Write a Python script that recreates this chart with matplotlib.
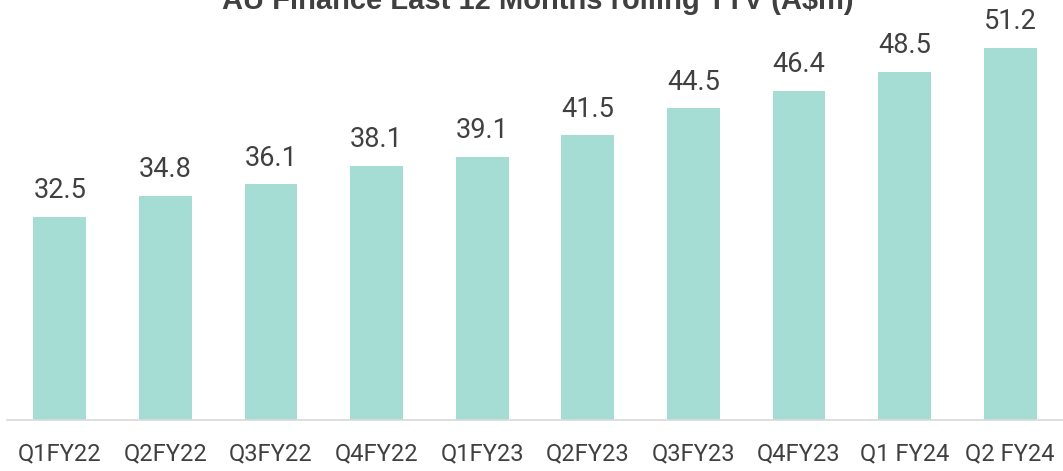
import matplotlib.pyplot as plt

# quarters and rolling TTV (A$m)
quarters = ["Q1FY22", "Q2FY22", "Q3FY22", "Q4FY22", "Q1FY23",
            "Q2FY23", "Q3FY23", "Q4FY23", "Q1 FY24", "Q2 FY24"]
ttv = [32.5, 34.8, 36.1, 38.1, 39.1, 41.5, 44.5, 46.4, 48.5, 51.2]

barColor = "#a5dcd4"
textColor = "#404040"

fig = plt.figure(figsize=(10.63, 4.71), dpi=100)
ax = fig.add_axes([7 / 1063, 51 / 471, 1056 / 1063, 420 / 471])

x = range(len(quarters))
bars = ax.bar(x, ttv, width=0.5, bottom=0, color=barColor, zorder=2)
ax.set_xlim(-0.5, len(quarters) - 0.5)
ax.set_ylim(10, 10 + 420 / 9.04)

for i, v in enumerate(ttv):
    ax.annotate("%.1f" % v, (i, v), xytext=(0, 9), textcoords="offset points",
                ha="center", va="bottom", fontsize=19.5, color=textColor,
                family="Roboto")

ax.set_xticks(list(x))
ax.set_xticklabels(quarters, fontsize=17, color=textColor, family="Roboto")
ax.tick_params(axis="x", length=0, pad=16)
ax.set_yticks([])
for s in ["top", "right", "left"]:
    ax.spines[s].set_visible(False)
ax.spines["bottom"].set_color("#d9d9d9")
ax.spines["bottom"].set_linewidth(1.2)

# title sits partly above the top edge, as in the source
fig.text(538 / 1063, 1 - 9 / 471, "AU Finance Last 12 Months rolling TTV (A$m)",
         ha="center", va="baseline", fontsize=21, fontweight="bold",
         color=textColor, family="Liberation Sans")

fig.savefig("out.png", dpi=100)
